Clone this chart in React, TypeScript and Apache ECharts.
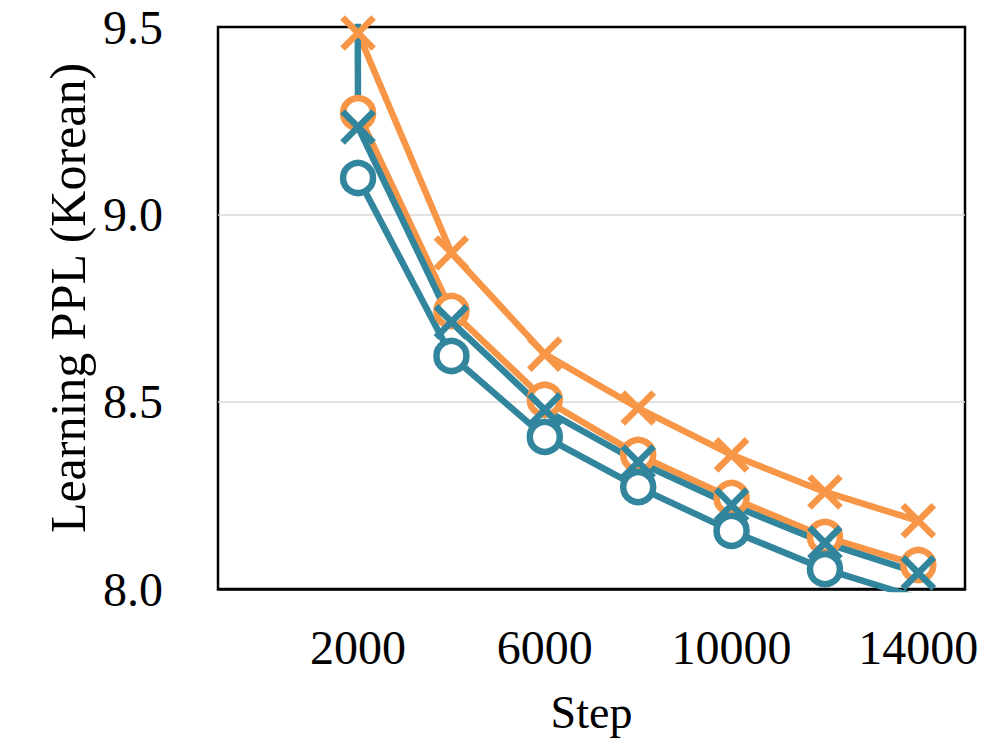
import React, { useEffect, useRef } from "react";
import * as echarts from "echarts";

const steps = [2000, 4000, 6000, 8000, 10000, 12000, 14000];
const orangeX = [9.484, 8.897, 8.627, 8.483, 8.358, 8.259, 8.182];
const orangeO = [9.27, 8.742, 8.505, 8.358, 8.243, 8.139, 8.064];
const tealXLead = [1975, 10.2];
const tealX = [9.233, 8.713, 8.478, 8.339, 8.224, 8.123, 8.043];
const tealO = [9.097, 8.622, 8.406, 8.272, 8.155, 8.053, 7.976];
const xTicks = [2000, 6000, 10000, 14000];
const yTicks = [8.0, 8.5, 9.0, 9.5];
const yTitle = "Learning PPL (Korean)";
const xTitle = "Step";

const ORANGE = "#F79646";
const TEAL = "#31859C";
const FONT = "Liberation Serif";
const X_PATH = "path://M0,0L10,10M10,0L0,10";
const LW = 6.5;

export default function App() {
  const ref = useRef<HTMLDivElement>(null);
  useEffect(() => {
    const chart = echarts.init(ref.current!, null, { renderer: "svg" });
    const pair = (vals: number[]) => steps.map((s, i) => [s, vals[i]]);
    const xSeries = (name: string, vals: number[], color: string, lead?: number[]) => ({
      name,
      type: "line",
      data: [
        ...(lead ? [{ value: lead, symbol: "none" }] : []),
        ...pair(vals),
      ],
      symbol: X_PATH,
      symbolSize: 31,
      clip: true,
      lineStyle: { color, width: LW },
      itemStyle: { color: "rgba(0,0,0,0)", borderColor: color, borderWidth: LW },
      emphasis: { disabled: true },
    });
    const oSeries = (name: string, vals: number[], color: string) => ({
      name,
      type: "line",
      data: pair(vals),
      symbol: "circle",
      symbolSize: 30,
      clip: true,
      lineStyle: { color, width: LW },
      itemStyle: { color: "#fff", borderColor: color, borderWidth: LW },
      emphasis: { disabled: true },
    });
    chart.setOption({
      animation: false,
      grid: {
        left: 218,
        right: 31,
        top: 27,
        bottom: 158,
        show: true,
        borderColor: "#000",
        borderWidth: 2.5,
        backgroundColor: "transparent",
      },
      graphic: [
        {
          type: "text",
          x: 68,
          y: 298,
          rotation: Math.PI / 2,
          silent: true,
          style: {
            text: yTitle,
            fontFamily: FONT,
            fontSize: 50,
            fill: "#000",
            align: "center",
            verticalAlign: "middle",
          },
        },
      ],
      xAxis: {
        type: "value",
        min: -1000,
        max: 15000,
        name: xTitle,
        nameLocation: "middle",
        nameGap: 100,
        nameTextStyle: { fontFamily: FONT, fontSize: 46, color: "#000" },
        axisLine: { show: true, onZero: false, lineStyle: { color: "#000", width: 2.5 } },
        axisTick: { show: false },
        splitLine: { show: false },
        axisLabel: {
          customValues: xTicks,
          formatter: (v: number) => String(v),
          fontFamily: FONT,
          fontSize: 48,
          color: "#000",
          margin: 34,
        },
      },
      yAxis: {
        type: "value",
        min: 8,
        max: 9.5,
        interval: 0.5,
        axisLine: { show: false, onZero: false },
        axisTick: { show: false },
        splitLine: {
          show: true,
          showMinLine: false,
          showMaxLine: false,
          lineStyle: { color: "#d9d9d9", width: 1.5 },
        },
        axisLabel: {
          customValues: yTicks,
          formatter: (v: number) => v.toFixed(1),
          fontFamily: FONT,
          fontSize: 48,
          color: "#000",
          margin: 55,
        },
      },
      series: [
        xSeries("orange-x", orangeX, ORANGE),
        oSeries("orange-o", orangeO, ORANGE),
        xSeries("teal-x", tealX, TEAL, tealXLead),
        oSeries("teal-o", tealO, TEAL),
      ],
    });
    return () => chart.dispose();
  }, []);
  return (
    <div
      ref={ref}
      style={{ position: "fixed", left: 0, top: 0, width: 996, height: 747, background: "#fff" }}
    />
  );
}
